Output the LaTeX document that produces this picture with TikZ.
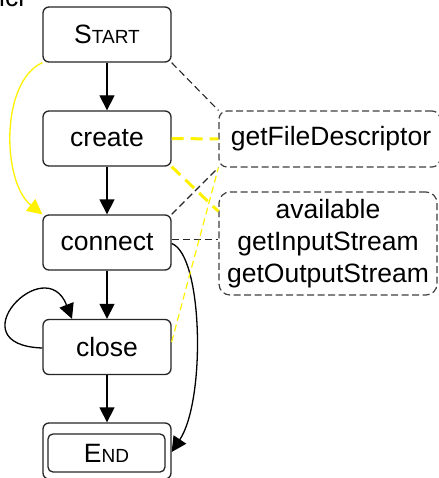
\documentclass[tikz,border=0pt]{standalone}
\usepackage{fontspec}
\setmainfont{Liberation Sans}
\usetikzlibrary{arrows.meta}

\tikzset{
  statebox/.style={draw=black!85, line width=1.3pt, rounded corners=6pt,
    minimum width=128pt, minimum height=55pt, inner sep=0pt,
    font=\fontsize{26.5}{30}\selectfont},
  notebox/.style={draw=black!75, line width=1.2pt, dash pattern=on 7pt off 3.5pt,
    inner sep=0pt, font=\fontsize{26.5}{32}\selectfont, align=center},
  flow/.style={line width=1.3pt, -{Triangle[length=15pt,width=15pt]}},
  hint/.style={line width=1.1pt, black!85, dash pattern=on 7pt off 4pt},
  yhint/.style={line width=3pt, yellow, dash pattern=on 12pt off 7pt},
  ythin/.style={line width=1.2pt, yellow, dash pattern=on 7pt off 4pt},
}
\newcommand{\capsmall}[2]{#1{\fontsize{19}{20}\selectfont #2}}

\begin{document}
\begin{tikzpicture}[x=1pt,y=-1pt]
\useasboundingbox (0,0) rectangle (438,478);
\fill[white] (0,0) rectangle (438,478);

% caption line above, cut by the page edge
\begin{scope}
  \clip (0,0) rectangle (438,478);
  \node[anchor=base west, inner sep=0pt, font=\fontsize{26.5}{30}\selectfont]
    (caption) at (-1,7) {icl};
\end{scope}

% states
\node[statebox] (start)   at (107,34.5)  {\capsmall{S}{TART}};
\node[statebox] (create)  at (107,138.5) {create};
\node[statebox] (connect) at (107,242.5) {connect};
\node[statebox] (close)   at (107,347)   {close};
\node[statebox, minimum height=56pt] (end) at (107,451) {};
\node[statebox, minimum width=117pt, minimum height=38pt, rounded corners=5pt]
  (endin) at (106.5,453) {\capsmall{E}{ND}};

% method notes
\node[notebox, rounded corners=8pt, minimum width=221pt, minimum height=56pt]
  (fd) at (329.5,139) {\hspace*{3pt}getFileDescriptor};
\node[notebox, rounded corners=11pt, minimum width=218pt, minimum height=103pt]
  (io) at (328,243.5) {available\\getInputStream\\getOutputStream};

\coordinate (ioin) at ([yshift=-20pt]io.north west);

% main flow
\draw[flow] (start) -- (create);
\draw[flow] (create) -- (connect);
\draw[flow] (connect) -- (close);
\draw[flow] (close) -- (end);

% yellow shortcut start -> connect
\draw[line width=1.3pt, yellow, -{Triangle[length=15pt,width=15pt]}]
  (start.south west) .. controls (0,82) and (2,182) .. (connect.north west);

% self loop on close
\draw[flow] ([yshift=-1pt]close.west) .. controls (-45,345) and (45,250) ..
  ([xshift=-35pt]close.north);

% connect -> end
\draw[flow] ([yshift=-1pt]connect.east) .. controls (203,255) and (206,400) ..
  ([yshift=-1pt]end.east);

% links to the notes
\draw[hint] (start.south east) -- (fd.north west);
\draw[hint] (connect.north east) -- (fd.south west);
\draw[hint] ([yshift=3pt]connect.east) -- ([yshift=4pt]io.west);
\draw[yhint] (create.east) -- (fd.west);
\draw[yhint] (create.south east) -- (ioin);
\draw[ythin] ([yshift=5pt]close.east) -- (fd.south west);
\end{tikzpicture}
\end{document}
